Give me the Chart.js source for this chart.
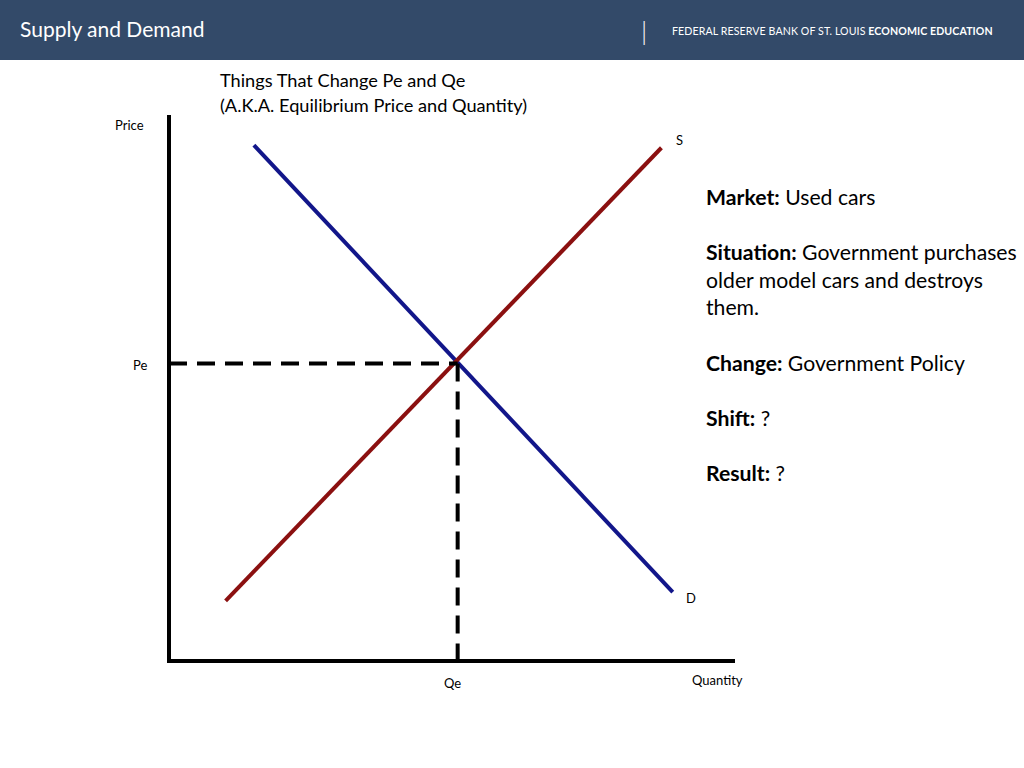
<!DOCTYPE html>
<html><head><meta charset="utf-8">
<script src="https://cdn.jsdelivr.net/npm/chart.js@4"></script>
<style>
body{margin:0;width:1024px;height:768px;position:relative;font-family:Lato,sans-serif;background:#fff;overflow:hidden}
#hdr{position:absolute;left:0;top:0;width:1024px;height:60px;background:#334a69}
.t{position:absolute;white-space:nowrap;color:#000}
#side{position:absolute;left:706px;top:184px;font-size:21.2px;line-height:27.6px;color:#000}
</style></head><body>
<div id="hdr"></div>
<div class="t" style="left:20px;top:16px;font-size:21px;color:#fff">Supply and Demand</div>
<div class="t" style="left:641px;top:14px;font-size:26px;color:#fff;font-weight:300">|</div>
<div class="t" style="left:672px;top:25px;font-size:10.6px;color:#fff;letter-spacing:0.1px">FEDERAL RESERVE BANK OF ST. LOUIS <b>ECONOMIC EDUCATION</b></div>
<div class="t" style="left:220px;top:68px;font-size:18.2px;line-height:25px">Things That Change Pe and Qe<br>(A.K.A. Equilibrium Price and Quantity)</div>
<div class="t" style="left:115px;top:117px;font-size:13px">Price</div>
<div class="t" style="left:133px;top:357px;font-size:13px">Pe</div>
<div class="t" style="left:444px;top:675px;font-size:13px">Qe</div>
<div class="t" style="left:692px;top:672px;font-size:13px">Quantity</div>
<div class="t" style="left:676px;top:132px;font-size:13px">S</div>
<div class="t" style="left:686px;top:590px;font-size:13px">D</div>
<div id="side"><b>Market:</b> Used cars<br><br><b>Situation:</b> Government purchases<br>older model cars and destroys<br>them.<br><br><b>Change:</b> Government Policy<br><br><b>Shift:</b> ?<br><br><b>Result:</b> ?</div>
<canvas id="c" width="1024" height="768" style="position:absolute;left:0;top:0"></canvas>
<script>
// curve end points, in chart units (0..100)
const supplyPts = [{x: 10, y: 11}, {x: 87, y: 94}];
const demandPts = [{x: 15, y: 94.5}, {x: 89, y: 12.6}];
const eqQ = 51, eqP = 54.5;
const axisPts = [{x: 0, y: 100}, {x: 0, y: 0}, {x: 100, y: 0}];

var ctx = document.getElementById("c").getContext("2d");
new Chart(ctx, {
	type: "scatter",
	data: {
		datasets: [
			{ data: axisPts, showLine: true, borderColor: "#000", borderWidth: 4, pointRadius: 0 },
			{ data: [{x: 0, y: eqP}, {x: eqQ, y: eqP}], showLine: true, borderColor: "#000", borderWidth: 4, borderDash: [18, 10], pointRadius: 0 },
			{ data: [{x: eqQ, y: eqP}, {x: eqQ, y: 0}], showLine: true, borderColor: "#000", borderWidth: 4, borderDash: [18, 10], pointRadius: 0 },
			{ data: supplyPts, showLine: true, borderColor: "#8b1010", borderWidth: 4, pointRadius: 0 },
			{ data: demandPts, showLine: true, borderColor: "#12168a", borderWidth: 4, pointRadius: 0 }
		]
	},
	options: {
		responsive: false,
		animation: false,
		clip: false,
		layout: { padding: { left: 169, right: 289, top: 115, bottom: 107 } },
		plugins: { legend: { display: false }, tooltip: { enabled: false } },
		scales: {
			x: { type: "linear", min: 0, max: 100, display: false },
			y: { type: "linear", min: 0, max: 100, display: false }
		}
	}
});
</script>
</body></html>
